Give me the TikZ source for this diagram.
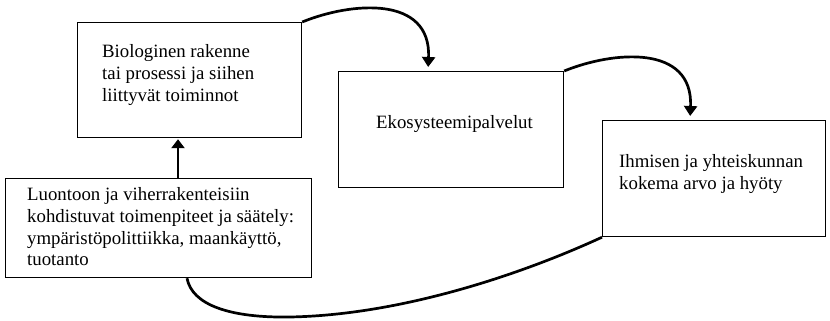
\documentclass[tikz,border=0pt]{standalone}
\usepackage{fontspec}
\setmainfont{Liberation Serif}
\usetikzlibrary{arrows.meta,calc}
\begin{document}
\begin{tikzpicture}[x=1pt,y=-1pt,
  box/.style={draw,line width=1.2pt,rectangle,inner sep=0pt,anchor=north west},
  txt/.style={anchor=north west,align=left,inner sep=0pt,font=\fontsize{18.8}{21.7}\selectfont},
  conn/.style={line width=2.7pt},
  tip/.style={-{Triangle[width=13pt,length=10pt]}}]
\useasboundingbox (0,0) rectangle (830,321);
% boxes
\node[box,minimum width=224pt,minimum height=115pt] (b1) at (77,22) {};
\node[box,minimum width=225pt,minimum height=116pt] (b2) at (338,71) {};
\node[box,minimum width=223pt,minimum height=116pt] (b3) at (602,120) {};
\node[box,minimum width=306pt,minimum height=99pt] (b4) at (5,178) {};
% texts
\node[txt] (t1) at (102,44.5) {Biologinen rakenne\\tai prosessi ja siihen\\liittyvät toiminnot};
\node[txt] (t2) at (376,115.5) {Ekosysteemipalvelut};
\node[txt] (t3) at (619,154.5) {Ihmisen ja yhteiskunnan\\kokema arvo ja hyöty};
\node[txt] (t4) at (27,187.5) {Luontoon ja viherrakenteisiin\\kohdistuvat toimenpiteet ja säätely:\\ympäristöpolittiikka, maankäyttö,\\tuotanto};
% connectors
\draw[conn,-{Triangle[width=13pt,length=9pt]}] ($(b4.north west)+(173,0)$) -- ($(b1.south west)+(101,1)$);
\draw[conn,tip,shorten >=4pt] (b1.north east) .. controls ($(b1.north east)+(49,-20)$) and ($(b1.north east)+(129,-27)$) .. ($(b2.north west)+(90,0)$);
\draw[conn,tip,shorten >=4pt] (b2.north east) .. controls ($(b2.north east)+(49,-20)$) and ($(b2.north east)+(129,-27)$) .. ($(b3.north west)+(88,0)$);
\draw[conn] ($(b4.south west)+(182,0)$) .. controls (192,305) and (230,318) .. (290,317) .. controls (400,315) and (520,275) .. (b3.south west);
\end{tikzpicture}
\end{document}
